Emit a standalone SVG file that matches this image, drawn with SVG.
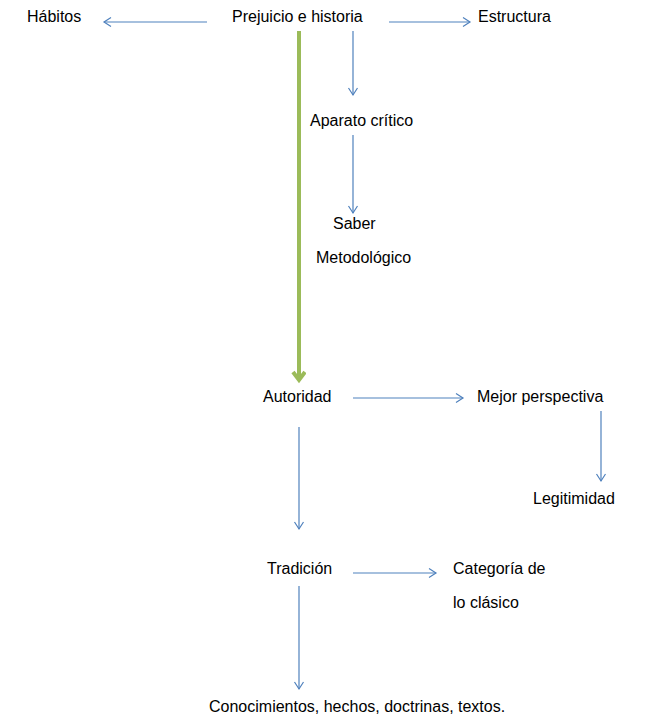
<svg xmlns="http://www.w3.org/2000/svg" width="656" height="728" viewBox="0 0 656 728">
<defs>
<style>
.t{font-family:"Liberation Sans",Arial,sans-serif;font-size:16px;fill:#000}
.c{stroke:#4f81bd;stroke-width:1.2;fill:none;marker-end:url(#ah)}
.g{stroke:#9bbb59;stroke-width:4;fill:none;marker-end:url(#gh)}
</style>
<marker id="ah" markerUnits="userSpaceOnUse" markerWidth="12" markerHeight="12" refX="8" refY="5" orient="auto">
<path d="M1,0.5 L8,5 L1,9.5" fill="none" stroke="#4f81bd" stroke-width="1.2"/>
</marker>
<marker id="gh" markerUnits="userSpaceOnUse" markerWidth="16" markerHeight="16" refX="10" refY="7" orient="auto">
<path d="M2,1 L10,7 L2,13" fill="none" stroke="#9bbb59" stroke-width="4" stroke-linejoin="miter"/>
</marker>
</defs>
<rect width="656" height="728" fill="#fff"/>
<g id="connectors">
<path class="c" d="M207,22 H104"/>
<path class="c" d="M389,22 H470"/>
<path class="c" d="M353,31 V95"/>
<path class="g" d="M299,31 V380"/>
<path class="c" d="M353,135 V213"/>
<path class="c" d="M353,398 H463"/>
<path class="c" d="M601,411 V481"/>
<path class="c" d="M299,427 V529"/>
<path class="c" d="M353,573 H436"/>
<path class="c" d="M299,586 V689"/>
</g>
<g id="habitos"><text class="t" x="27" y="22">Hábitos</text></g>
<g id="prejuicio"><text class="t" x="232" y="22">Prejuicio e historia</text></g>
<g id="estructura"><text class="t" x="478" y="22">Estructura</text></g>
<g id="aparato"><text class="t" x="310" y="126">Aparato crítico</text></g>
<g id="saber"><text class="t" x="333" y="229">Saber</text><text class="t" x="316" y="263">Metodológico</text></g>
<g id="autoridad"><text class="t" x="263" y="402">Autoridad</text></g>
<g id="mejor"><text class="t" x="477" y="402">Mejor perspectiva</text></g>
<g id="legitimidad"><text class="t" x="533" y="504">Legitimidad</text></g>
<g id="tradicion"><text class="t" x="267" y="574">Tradición</text></g>
<g id="categoria"><text class="t" x="453" y="574">Categoría de</text><text class="t" x="453" y="608">lo clásico</text></g>
<g id="conocimientos"><text class="t" x="209" y="712">Conocimientos, hechos, doctrinas, textos.</text></g>
</svg>
